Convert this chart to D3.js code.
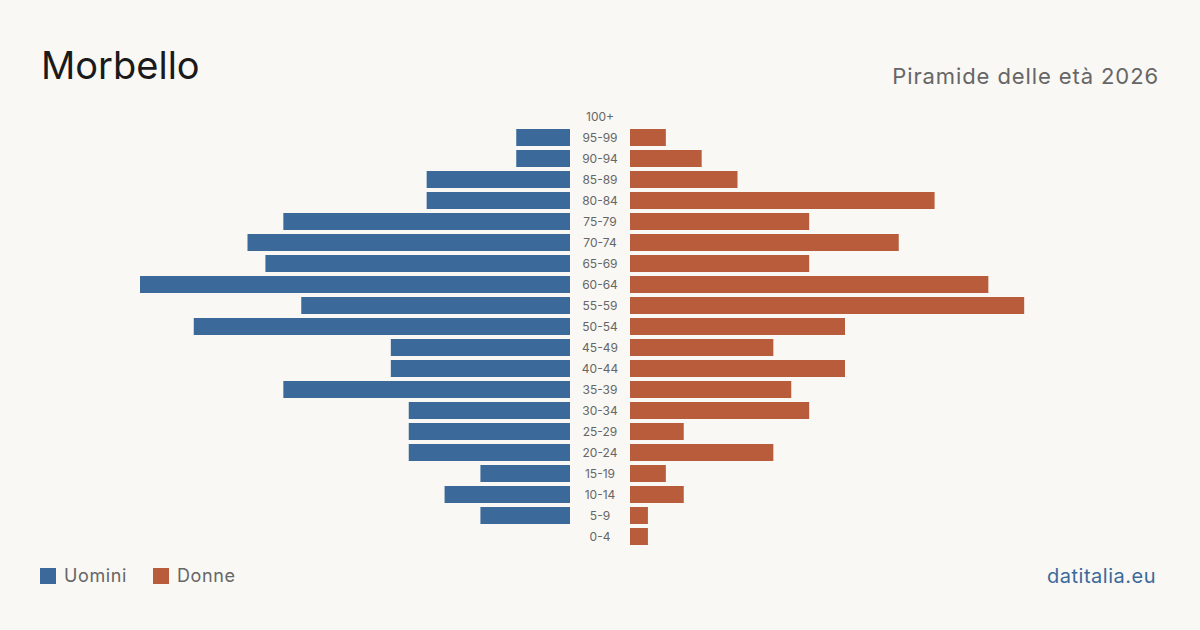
<!DOCTYPE html>
<html>
<head>
<meta charset="utf-8">
<script src="https://cdn.jsdelivr.net/npm/d3@7"></script>
<style>
  body { margin: 0; background: #f9f8f4; }
  svg { display: block; font-family: Inter, "Noto Sans", sans-serif; }
</style>
</head>
<body>
<svg id="pyramid" width="1200" height="630"></svg>
<script>
var ageGroups = ["100+", "95-99", "90-94", "85-89", "80-84", "75-79", "70-74", "65-69", "60-64", "55-59",
  "50-54", "45-49", "40-44", "35-39", "30-34", "25-29", "20-24", "15-19", "10-14", "5-9", "0-4"];
var men   = [0, 3, 3, 8, 8, 16, 18, 17, 24, 15, 21, 10, 10, 16, 9, 9, 9, 5, 7, 5, 0];
var women = [0, 2, 4, 6, 17, 10, 15, 10, 20, 22, 12, 8, 12, 9, 10, 3, 8, 2, 3, 1, 1];

var blue = "#3b6a9a", red = "#b95c3b";

var data = ageGroups.map(function(g, i) { return { age: g, m: men[i], f: women[i] }; });

var svg = d3.select("svg#pyramid");
svg.append("rect").attr("width", 1200).attr("height", 630).attr("fill", "#f9f8f4");

// title + subtitle
svg.append("text").attr("x", 41).attr("y", 79)
  .attr("font-size", 38).attr("fill", "#1a1a1a").text("Morbello");
svg.append("text").attr("x", 1159).attr("y", 84).attr("text-anchor", "end")
  .attr("font-size", 22).attr("letter-spacing", 0.9).attr("fill", "#666").text("Piramide delle età 2026");

var centerL = 570, centerR = 630;

var x = d3.scaleLinear().domain([0, 24]).range([0, 430]);
var y = d3.scaleBand().domain(ageGroups).range([108, 545]).paddingInner(4 / 21).paddingOuter(0);

svg.append("g").selectAll("rect")
  .data(data).join("rect")
    .attr("x", d => centerL - x(d.m))
    .attr("y", d => y(d.age))
    .attr("width", d => x(d.m))
    .attr("height", y.bandwidth())
    .attr("fill", blue);

svg.append("g").selectAll("rect")
  .data(data).join("rect")
    .attr("x", centerR)
    .attr("y", d => y(d.age))
    .attr("width", d => x(d.f))
    .attr("height", y.bandwidth())
    .attr("fill", red);

svg.append("g").selectAll("text")
  .data(data).join("text")
    .attr("x", 600)
    .attr("y", d => y(d.age) + y.bandwidth() / 2)
    .attr("dy", "0.35em")
    .attr("text-anchor", "middle")
    .attr("font-size", 12)
    .attr("fill", "#666")
    .text(d => d.age);

// legend
var legend = [{ label: "Uomini", color: blue, x: 40 }, { label: "Donne", color: red, x: 153 }];
var lg = svg.append("g").selectAll("g").data(legend).join("g")
  .attr("transform", d => "translate(" + d.x + ",568)");
lg.append("rect").attr("width", 16).attr("height", 16).attr("fill", d => d.color);
lg.append("text").attr("x", 24).attr("y", 8).attr("dy", "0.35em")
  .attr("font-size", 18).attr("letter-spacing", 0.6).attr("fill", "#666").text(d => d.label);

svg.append("text").attr("x", 1156).attr("y", 583).attr("text-anchor", "end")
  .attr("font-size", 20).attr("letter-spacing", 0.5).attr("fill", blue).text("datitalia.eu");
</script>
</body>
</html>
